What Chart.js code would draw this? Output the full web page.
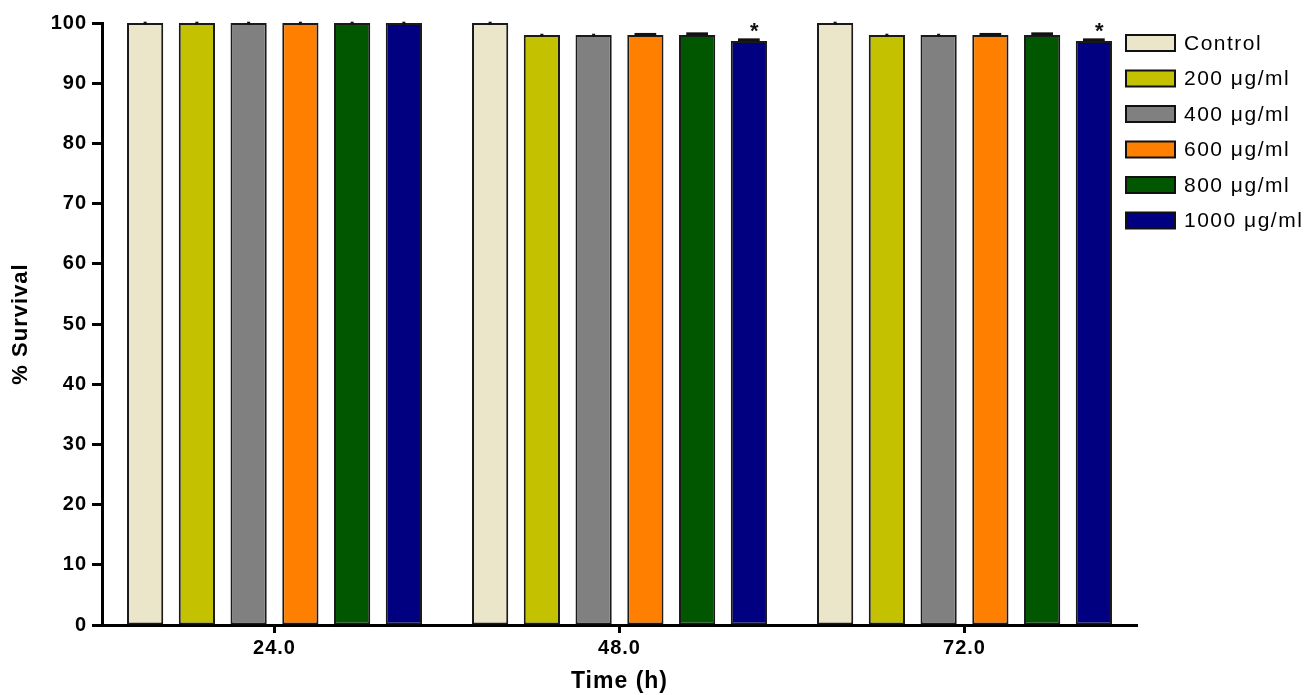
<!DOCTYPE html>
<html>
<head>
<meta charset="utf-8">
<title>% Survival</title>
<script src="https://cdn.jsdelivr.net/npm/chart.js@4"></script>
<style>
  html, body { margin: 0; padding: 0; background: #fff; }
  #wrap { width: 1311px; height: 695px; }
</style>
</head>
<body>
<div id="wrap"><canvas id="chart" width="1311" height="695"></canvas></div>
<script>
// data
const timeLabels = ['24.0', '48.0', '72.0'];
const doseLabels = ['Control', '200 μg/ml', '400 μg/ml', '600 μg/ml', '800 μg/ml', '1000 μg/ml'];
const control = [100, 100, 100];
const dose200 = [100, 98, 98];
const dose400 = [100, 98, 98];
const dose600 = [100, 98, 98];
const dose800 = [100, 98, 98];
const dose1000 = [100, 97, 97];
// SEM (approx.)
const errControl = [0.05, 0.05, 0.05];
const err200 = [0.05, 0.05, 0.05];
const err400 = [0.05, 0.05, 0.05];
const err600 = [0.05, 0.1, 0.1];
const err800 = [0.05, 0.2, 0.2];
const err1000 = [0.05, 0.2, 0.2];
const sig1000 = ['', '*', '*'];

const colors = ['#EBE5C9', '#C4C200', '#808080', '#FF8000', '#005700', '#000080'];
const series = [control, dose200, dose400, dose600, dose800, dose1000];
const errors = [errControl, err200, err400, err600, err800, err1000];
const marks = [[], [], [], [], [], sig1000];

const FONT = "'Liberation Sans', Arial, sans-serif";

const spacing = {
    id: 'spacing',
    beforeUpdate(chart) { chart.ctx.letterSpacing = '1px'; },
    beforeDraw(chart) { chart.ctx.letterSpacing = '1px'; }
};

const errorBars = {
    id: 'errorBars',
    afterDatasetsDraw(chart) {
        const ctx = chart.ctx;
        const y = chart.scales.y;
        ctx.save();
        ctx.strokeStyle = '#111';
        ctx.fillStyle = '#111';
        chart.data.datasets.forEach((ds, i) => {
            const meta = chart.getDatasetMeta(i);
            meta.data.forEach((bar, j) => {
                const v = ds.data[j];
                const top = y.getPixelForValue(v + ds.err[j]);
                if (ds.err[j] > 0.08) {
                    ctx.lineWidth = 3;
                    ctx.beginPath();
                    ctx.moveTo(bar.x - bar.width * 0.3, top);
                    ctx.lineTo(bar.x + bar.width * 0.3, top);
                    ctx.stroke();
                } else {
                    ctx.fillRect(bar.x - 1.5, top - 1, 3, 3);
                }
                if (ds.marks[j]) {
                    ctx.font = 'bold 22px ' + FONT;
                    ctx.textAlign = 'center';
                    ctx.textBaseline = 'alphabetic';
                    ctx.fillText(ds.marks[j], bar.x + 6, top - 2);
                }
            });
        });
        ctx.restore();
    }
};

const sideLegend = {
    id: 'sideLegend',
    afterDraw(chart) {
        const ctx = chart.ctx;
        ctx.save();
        ctx.letterSpacing = '1.5px';
        ctx.font = '21px ' + FONT;
        ctx.textAlign = 'left';
        ctx.textBaseline = 'middle';
        chart.data.datasets.forEach((ds, i) => {
            const cy = 43 + i * 35.5;
            ctx.fillStyle = ds.backgroundColor;
            ctx.fillRect(1126, cy - 8, 49, 16);
            ctx.strokeStyle = '#111';
            ctx.lineWidth = 2;
            ctx.strokeRect(1126, cy - 8, 49, 16);
            ctx.fillStyle = '#000';
            ctx.fillText(ds.label, 1184, cy + 1);
        });
        ctx.restore();
    }
};

const ctx = document.getElementById('chart').getContext('2d');
const survivalChart = new Chart(ctx, {
    type: 'bar',
    data: {
        labels: timeLabels,
        datasets: series.map((d, i) => ({
            label: doseLabels[i],
            data: d,
            err: errors[i],
            marks: marks[i],
            backgroundColor: colors[i],
            borderColor: '#1a1a1a',
            borderWidth: 2,
            borderSkipped: false,
            categoryPercentage: 0.9,
            barPercentage: 0.7
        }))
    },
    options: {
        responsive: false,
        animation: false,
        devicePixelRatio: 1,
        layout: { padding: { left: 8, top: 23, right: 174, bottom: 0 } },
        plugins: {
            legend: { display: false },
            tooltip: { enabled: false }
        },
        scales: {
            x: {
                afterFit(scale) { scale.height = 70; },
                grid: {
                    offset: false,
                    drawOnChartArea: false,
                    tickLength: 8,
                    tickWidth: 3,
                    tickColor: '#000'
                },
                border: { color: '#000', width: 3 },
                ticks: {
                    color: '#000',
                    padding: 3,
                    font: { family: FONT, size: 20, weight: 'bold' }
                },
                title: {
                    display: true,
                    text: 'Time (h)',
                    color: '#000',
                    padding: 0,
                    font: { family: FONT, size: 23, weight: 'bold' }
                }
            },
            y: {
                min: 0,
                max: 100,
                afterFit(scale) { scale.width = 94; },
                grid: {
                    drawOnChartArea: false,
                    tickLength: 10,
                    tickWidth: 3,
                    tickColor: '#000'
                },
                border: { color: '#000', width: 3 },
                ticks: {
                    stepSize: 10,
                    color: '#000',
                    padding: 5,
                    font: { family: FONT, size: 20, weight: 'bold' }
                },
                title: {
                    display: true,
                    text: '% Survival',
                    color: '#000',
                    padding: 0,
                    font: { family: FONT, size: 22, weight: 'bold' }
                }
            }
        }
    },
    plugins: [spacing, errorBars, sideLegend]
});
</script>
</body>
</html>
